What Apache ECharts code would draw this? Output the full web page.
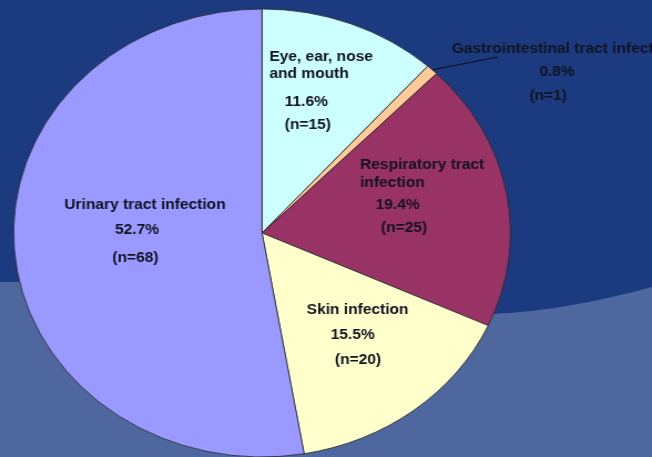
<!DOCTYPE html>
<html>
<head>
<meta charset="utf-8">
<script src="https://cdn.jsdelivr.net/npm/echarts@6/dist/echarts.min.js"></script>
<style>
  html, body { margin: 0; padding: 0; background: #1c3a80; overflow: hidden; }
  /* the source picture is stretched sideways, so the chart is too */
  #main { width: 588px; height: 457px; transform: scaleX(1.1088); transform-origin: 0 0; }
</style>
</head>
<body>
<div id="main"></div>
<script>
// data
const categories = ['Eye, ear, nose and mouth', 'Gastrointestinal tract infection', 'Respiratory tract infection', 'Skin infection', 'Urinary tract infection'];
const titleLines = [['Eye, ear, nose', 'and mouth'], ['Gastrointestinal tract infection'], ['Respiratory tract', 'infection'], ['Skin infection'], ['Urinary tract infection']];
const counts = [15, 1, 25, 20, 68];
const percents = ['11.6%', '0.8%', '19.4%', '15.5%', '52.7%'];

// styles
const colors = ['#ccffff', '#ffcc99', '#993366', '#ffffcc', '#9999ff'];
// label block: left x, per line left offset, per line centre y
const labelPlace = [
  { x: 242.9, off: [0, 0, 13.9, 13.9], cy: [55.5, 73, 100.5, 124] },
  { x: 407.4, off: [0, 79, 70], cy: [48, 70.5, 95] },
  { x: 324.7, off: [0, 0, 14.1, 18.9], cy: [163.8, 182, 203.8, 227] },
  { x: 276.6, off: [0, 21.6, 25.5], cy: [308.8, 333.7, 358.7] },
  { x: 58.0, off: [0, 45.7, 43.3], cy: [204, 228.7, 256.3] }
];
const textNudge = 1.5;

const font = { fontFamily: 'Liberation Sans, Arial, sans-serif', fontWeight: 'bold', fontSize: 14, color: '#121420' };

function lineHeights(cy) {
  let lh = [18];
  for (let k = 1; k < cy.length; k++) lh.push(2 * (cy[k] - cy[k - 1]) - lh[k - 1]);
  return lh;
}

// lighter backdrop shape at the bottom (quadratic edge on the right)
function backdropPoints() {
  let pts = [[0, 282], [200, 282], [440, 314]];
  for (let t = 0.05; t <= 1.0001; t += 0.05) {
    let a = (1 - t) * (1 - t), b = 2 * t * (1 - t), c = t * t;
    pts.push([a * 440 + b * 505 + c * 588, a * 314 + b * 312 + c * 287]);
  }
  pts.push([588, 457], [0, 457]);
  return pts;
}

let pieData = categories.map(function (name, i) {
  let lines = titleLines[i].concat([percents[i], '(n=' + counts[i] + ')']);
  let lh = lineHeights(labelPlace[i].cy);
  let rich = {};
  lines.forEach(function (t, k) {
    rich['l' + k] = Object.assign({ lineHeight: lh[k], padding: [0, 0, 0, labelPlace[i].off[k]], align: 'left' }, font);
  });
  let item = {
    name: name,
    value: counts[i],
    itemStyle: { color: colors[i] },
    label: {
      formatter: lines.map(function (t, k) { return '{l' + k + '|' + t + '}'; }).join('\n'),
      rich: rich
    }
  };
  if (i === 1) {
    item.label.position = 'outside';
    item.labelLine = { show: true, lineStyle: { color: '#111', width: 1 } };
  }
  return item;
});

let myChart = echarts.init(document.getElementById('main'));
let option = {
  animation: false,
  backgroundColor: '#1c3a80',
  graphic: [
    {
      type: 'polygon',
      z: -1,
      shape: { points: backdropPoints() },
      style: { fill: '#4e689f' }
    }
  ],
  series: [
    {
      type: 'pie',
      center: [236.3, 233],
      radius: 224,
      startAngle: 90,
      clockwise: true,
      avoidLabelOverlap: false,
      itemStyle: { borderColor: '#2a2a2a', borderWidth: 0.8 },
      label: Object.assign({ show: true, position: 'inside', overflow: 'none' }, font),
      labelLine: { show: false },
      emphasis: { disabled: true },
      data: pieData,
      labelLayout: function (params) {
        let p = labelPlace[params.dataIndex];
        let lh = lineHeights(p.cy);
        let res = { x: p.x, y: p.cy[0] - lh[0] / 2 + textNudge, align: 'left', verticalAlign: 'top' };
        if (params.dataIndex === 1 && params.labelLinePoints) {
          res.labelLinePoints = [params.labelLinePoints[0], [449, 57]];
        }
        return res;
      }
    }
  ]
};
myChart.setOption(option);
</script>
</body>
</html>
